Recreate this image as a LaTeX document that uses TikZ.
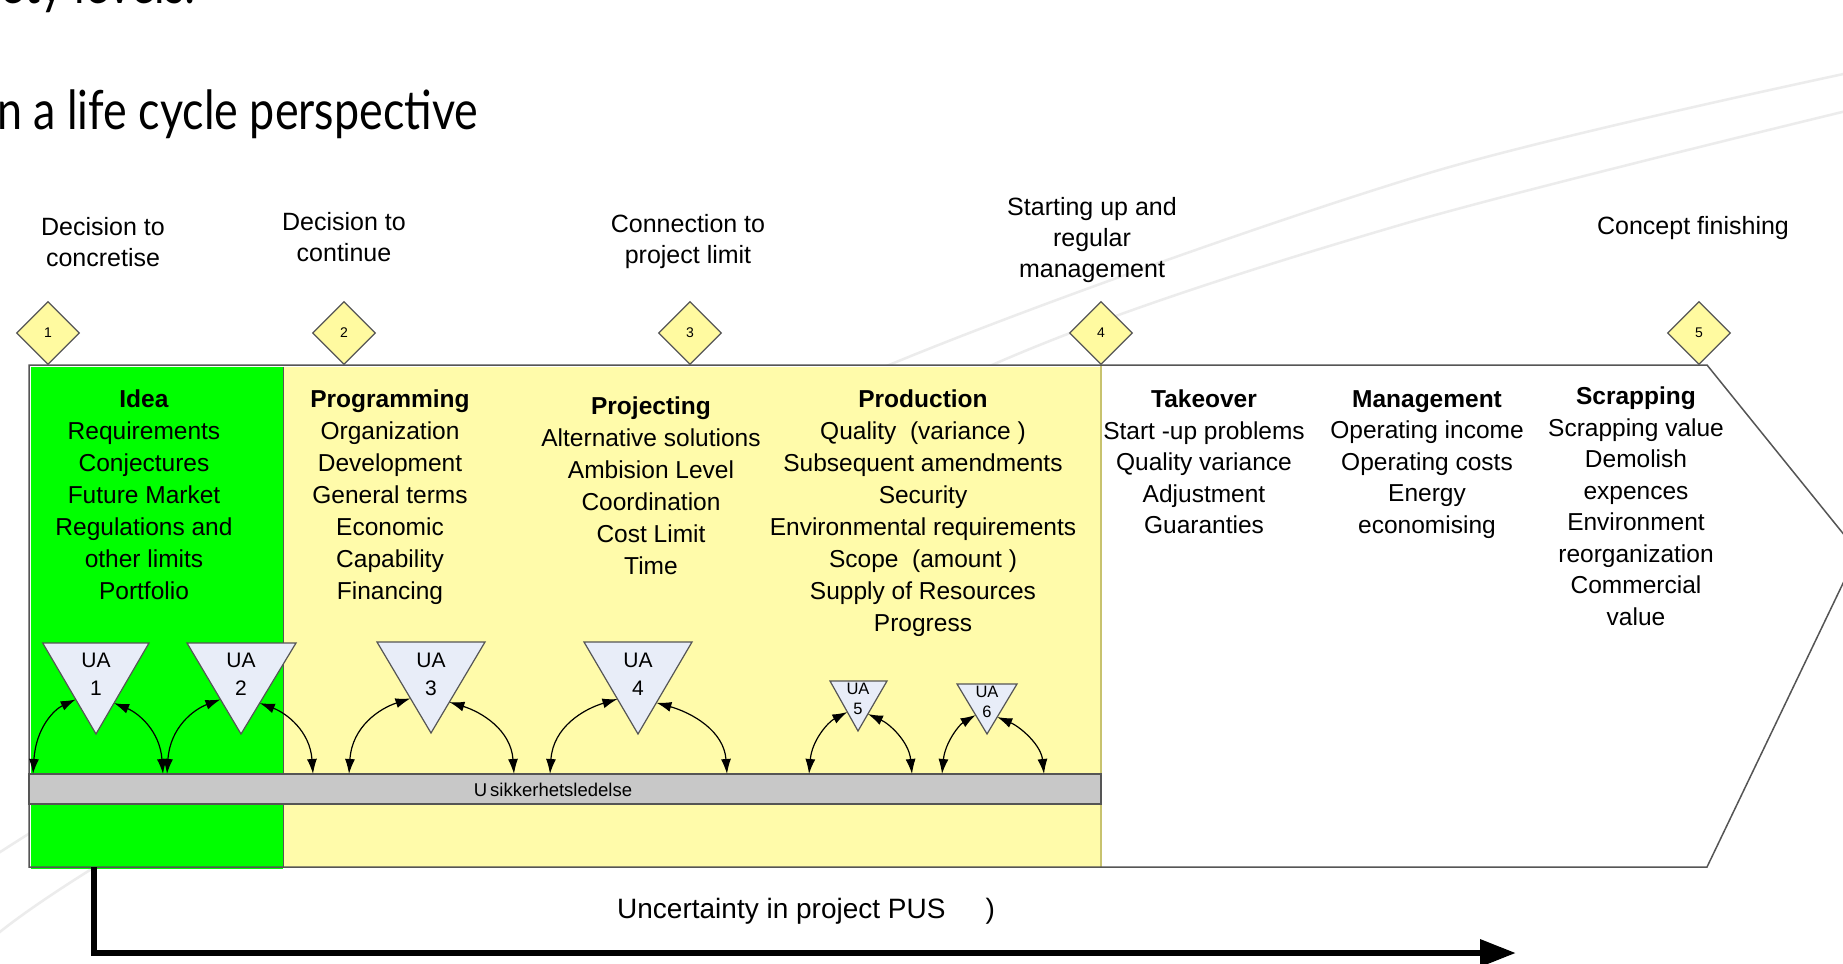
\documentclass[tikz,border=0pt]{standalone}
\usepackage{fontspec}
\setmainfont{Liberation Sans}
\newfontfamily\titlefont[FakeStretch=0.83]{Lato}
\usetikzlibrary{shapes.geometric,arrows.meta,calc}
\definecolor{ideagreen}{RGB}{0,255,0}
\definecolor{phaseyellow}{RGB}{255,251,170}
\definecolor{milefill}{RGB}{255,250,160}
\definecolor{barfill}{RGB}{200,200,200}
\definecolor{uafill}{RGB}{232,237,248}
\definecolor{edgegray}{RGB}{85,85,85}
\definecolor{swoosh}{RGB}{236,236,236}
\definecolor{olive}{RGB}{200,195,110}
\newcommand\uatri[9]{%
  \coordinate (#1a) at (#2,#4);
  \coordinate (#1b) at (#3,#4);
  \coordinate (#1c) at (#5,#6);
  \draw[trishape] (#1a) -- (#1b) -- (#1c) -- cycle;
  \coordinate (#1pl) at ($(#1a)!0.62!(#1c)$);
  \coordinate (#1pr) at ($(#1b)!0.66!(#1c)$);
  \coordinate (#1sl) at (#7,774);
  \coordinate (#1sr) at (#8,774);
  \draw[uaarrow] (#1sl) .. controls ($(#1sl|-#1pl)+(3,28)$) and ($(#1sl|-#1pl)!0.5!(#1pl)+(0,10)$) .. (#1pl);
  \draw[uaarrow] (#1sr) .. controls ($(#1sr|-#1pr)+(-3,28)$) and ($(#1sr|-#1pr)!0.5!(#1pr)+(0,10)$) .. (#1pr);
  \node[#9] (#1lab) at ($(#1a)!0.5!(#1b)+(0,#6/2-#4/2-10)$) {};
}
\begin{document}
\begin{tikzpicture}[x=1pt,y=-1pt,
  mile/.style={diamond, draw=edgegray, fill=milefill, line width=1.2pt, minimum width=63pt, minimum height=63pt, inner sep=0pt, font=\fontsize{14}{14}\selectfont},
  mlab/.style={align=center, inner sep=0pt, anchor=north, font=\fontsize{25}{31}\selectfont},
  col/.style={align=center, inner sep=0pt, anchor=north, font=\fontsize{24.5}{32}\selectfont},
  trishape/.style={draw=edgegray, fill=uafill, line width=1.2pt, line join=miter},
  ualab/.style={align=center, inner sep=0pt, font=\fontsize{21}{28}\selectfont},
  uasmall/.style={align=center, inner sep=0pt, font=\fontsize{16.5}{20}\selectfont},
  uaarrow/.style={{Latex[length=15pt,width=10pt]}-{Latex[length=15pt,width=10pt]}, line width=1.2pt},
  emptystyle/.style={inner sep=0pt}
]
\useasboundingbox (0,0) rectangle (1843,963);
\fill[white] (0,0) rectangle (1843,963);
% background swooshes
\draw[swoosh, line width=2.5pt] plot[smooth] coordinates {(-5,856) (30,833) (400,600) (889,365) (1429,173) (1900,62)};
\draw[swoosh, line width=2.5pt] plot[smooth] coordinates {(-5,936) (90,870) (500,620) (992,365) (1400,225) (1900,98)};
% headline texts
\node[anchor=base east, inner sep=0pt, font=\titlefont\fontsize{54}{54}\selectfont] (toptext) at (196,4) {safety levels:};
\node[anchor=base west, inner sep=0pt, font=\titlefont\fontsize{54}{54}\selectfont] (title) at (-3,129) {n a life cycle perspective};
% frame
\fill[white] (29,365) -- (1707,365) -- (1858,552) -- (1707,867) -- (29,867) -- cycle;
\fill[phaseyellow] (283,367) rectangle (1100,867);
\fill[ideagreen] (31,367) rectangle (283,869);
\draw[edgegray, line width=1pt] (283,367) -- (283,867);
\draw[olive, line width=1.5pt] (1101,365) -- (1101,867);
\draw[edgegray, line width=1.5pt] (29,365) -- (1707,365) -- (1858,552) -- (1707,867) -- (29,867) -- cycle;
% milestones
\node[mile] (m1) at (48,333) {1};
\node[mile] (m2) at (344,333) {2};
\node[mile] (m3) at (690,333) {3};
\node[mile] (m4) at (1101,333) {4};
\node[mile] (m5) at (1699,333) {5};
\node[mlab] (l1) at (103,217) {Decision to\\concretise};
\node[mlab] (l2) at (344,212) {Decision to\\continue};
\node[mlab] (l3) at (688,214) {Connection to\\project limit};
\node[mlab] (l4) at (1092,197) {Starting up and\\regular\\management};
\node[mlab] (l5) at (1693,216) {Concept finishing};
% phase columns
\node[col] (idea) at (144,390) {\textbf{Idea}\\Requirements\\Conjectures\\Future Market\\Regulations and\\other limits\\Portfolio};
\node[col] (prog) at (390,390) {\textbf{Programming}\\Organization\\Development\\General terms\\Economic\\Capability\\Financing};
\node[col] (proj) at (651,397) {\textbf{Projecting}\\Alternative solutions\\Ambision Level\\Coordination\\Cost Limit\\Time};
\node[col] (prod) at (923,390) {\textbf{Production}\\Quality\ \ (variance )\\Subsequent amendments\\Security\\Environmental requirements\\Scope\ \ (amount )\\Supply of Resources\\Progress};
\node[col, font=\fontsize{24.5}{31.5}\selectfont] (take) at (1204,390) {\textbf{Takeover}\\Start -up problems\\Quality variance\\Adjustment\\Guaranties};
\node[col, font=\fontsize{24.5}{31.5}\selectfont] (mgmt) at (1427,390) {\textbf{Management}\\Operating income\\Operating costs\\Energy\\economising};
\node[col, font=\fontsize{24.5}{31.5}\selectfont] (scrap) at (1636,387) {\textbf{Scrapping}\\Scrapping value\\Demolish\\expences\\Environment\\reorganization\\Commercial\\value};
% uncertainty management bar
\draw[fill=barfill, draw=edgegray, line width=1.5pt] (29,774) rectangle (1101,804);
\node[inner sep=0pt, font=\fontsize{18.5}{18.5}\selectfont] (bar) at (553,790) {U\hspace{3pt}sikkerhetsledelse};
% UA triangles with arrows
\uatri{u1}{42.7}{149}{643}{96}{734}{33}{163}{emptystyle}
\uatri{u2}{187}{296}{643}{241}{734}{167}{313}{emptystyle}
\uatri{u3}{377}{485}{642}{431}{733}{349}{514}{emptystyle}
\uatri{u4}{584}{692}{642}{638}{734}{550}{727}{emptystyle}
\uatri{u5}{830}{887}{681}{858}{731}{809}{912}{emptystyle}
\uatri{u6}{957}{1017}{684}{987}{734}{942}{1044}{emptystyle}
\node[ualab] (ua1) at (96,674) {UA\\1};
\node[ualab] (ua2) at (241,674) {UA\\2};
\node[ualab] (ua3) at (431,674) {UA\\3};
\node[ualab] (ua4) at (638,674) {UA\\4};
\node[uasmall] (ua5) at (858,699) {UA\\5};
\node[uasmall] (ua6) at (987,702) {UA\\6};
% bottom arrow
\coordinate (pstart) at (94,867);
\coordinate (pend) at (1516,953);
\draw[line width=6.5pt, -{Triangle[length=36pt,width=26pt]}] (pstart) |- (pend);
\node[anchor=west, inner sep=0pt, font=\fontsize{28}{28}\selectfont] (pus) at (617,911) {Uncertainty in project PUS\hspace{40pt})};
\end{tikzpicture}
\end{document}
